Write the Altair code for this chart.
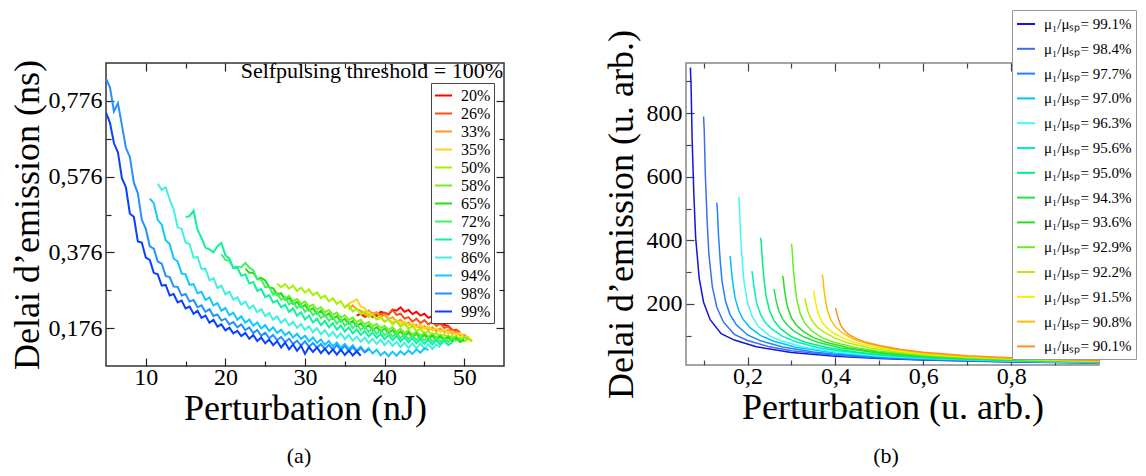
import altair as alt
import pandas as pd

FONT = "Liberation Serif"

# ---------------- panel (a) : measured delays ----------------
A_SERIES = ["20%", "26%", "33%", "35%", "50%", "58%", "65%", "72%", "79%", "86%", "94%", "98%", "99%"]
A_COLORS = ["#ff0000", "#ff4a10", "#ff9a20", "#ffd21e", "#a6f000", "#72f020", "#20e010",
            "#40f068", "#10f0a0", "#40f0e0", "#10c8ff", "#2590ff", "#0a40ff"]
A_X0 = [36.5, 37.5, 35.5, 35.0, 26.5, 26.0, 22.5, 19.5, 15.0, 11.5, 10.5, 5.0, 5.0]
A_DX = 0.5
A_Y = {
    "20%": [0.209, 0.214, 0.206, 0.212, 0.215, 0.208, 0.219, 0.216, 0.212, 0.225, 0.222, 0.231, 0.219,
            0.224, 0.213, 0.219, 0.209, 0.214, 0.203, 0.208, 0.196, 0.197, 0.184, 0.182, 0.171, 0.168],
    "26%": [0.204, 0.212, 0.205, 0.214, 0.211, 0.217, 0.213, 0.224, 0.211, 0.214, 0.201, 0.205, 0.193,
            0.201, 0.189, 0.197, 0.186, 0.193, 0.182, 0.188, 0.176, 0.181, 0.169, 0.172, 0.164],
    "33%": [0.226, 0.236, 0.226, 0.222, 0.212, 0.223, 0.214, 0.218, 0.206, 0.211, 0.200, 0.205, 0.193,
            0.198, 0.186, 0.191, 0.181, 0.185, 0.175, 0.181, 0.171, 0.178, 0.168, 0.175, 0.166, 0.172,
            0.161, 0.166, 0.156, 0.159, 0.150],
    "35%": [0.232, 0.241, 0.246, 0.252, 0.233, 0.229, 0.214, 0.213, 0.200, 0.202, 0.193, 0.199, 0.191,
            0.197, 0.187, 0.193, 0.183, 0.189, 0.178, 0.185, 0.174, 0.181, 0.170, 0.176, 0.166, 0.172,
            0.162, 0.168, 0.158, 0.163, 0.152, 0.153, 0.142],
    "50%": [0.293, 0.284, 0.292, 0.280, 0.288, 0.274, 0.283, 0.270, 0.278, 0.263, 0.271, 0.255, 0.262,
            0.247, 0.255, 0.240, 0.247, 0.230, 0.237, 0.220, 0.228, 0.212, 0.220, 0.205, 0.213, 0.199,
            0.207, 0.193, 0.200, 0.186, 0.194, 0.180, 0.188, 0.174, 0.181, 0.168, 0.175, 0.162, 0.169,
            0.156, 0.164, 0.152, 0.160, 0.148, 0.156, 0.144, 0.152, 0.141, 0.148, 0.140],
    "58%": [0.272, 0.262, 0.268, 0.254, 0.261, 0.247, 0.253, 0.240, 0.246, 0.232, 0.238, 0.225, 0.231,
            0.218, 0.224, 0.211, 0.217, 0.204, 0.210, 0.198, 0.204, 0.192, 0.198, 0.186, 0.192, 0.181,
            0.187, 0.176, 0.182, 0.171, 0.178, 0.167, 0.174, 0.163, 0.170, 0.159, 0.167, 0.156, 0.164,
            0.153, 0.161, 0.150, 0.159, 0.148, 0.157, 0.146, 0.155, 0.144, 0.152, 0.146],
    "65%": [0.333, 0.322, 0.322, 0.306, 0.309, 0.302, 0.284, 0.281, 0.266, 0.268, 0.251, 0.255, 0.240,
            0.245, 0.231, 0.237, 0.222, 0.229, 0.214, 0.222, 0.207, 0.215, 0.200, 0.208, 0.193, 0.201,
            0.187, 0.195, 0.181, 0.189, 0.176, 0.184, 0.171, 0.179, 0.167, 0.175, 0.163, 0.171, 0.159,
            0.167, 0.155, 0.164, 0.152, 0.161, 0.149, 0.158, 0.147, 0.156, 0.145, 0.154, 0.143, 0.152,
            0.141, 0.150, 0.139, 0.146],
    "72%": [0.371, 0.356, 0.354, 0.336, 0.338, 0.337, 0.348, 0.336, 0.329, 0.305, 0.304, 0.284, 0.285,
            0.264, 0.268, 0.251, 0.257, 0.239, 0.246, 0.229, 0.237, 0.219, 0.227, 0.210, 0.219, 0.202,
            0.212, 0.195, 0.205, 0.188, 0.199, 0.182, 0.193, 0.176, 0.187, 0.171, 0.181, 0.166, 0.176,
            0.161, 0.171, 0.157, 0.167, 0.153, 0.163, 0.150, 0.160, 0.147, 0.157, 0.145, 0.155, 0.143,
            0.153, 0.141, 0.151, 0.140, 0.150, 0.139, 0.149, 0.142],
    "79%": [0.469, 0.472, 0.486, 0.436, 0.414, 0.388, 0.384, 0.376, 0.392, 0.401, 0.368, 0.360, 0.334,
            0.336, 0.314, 0.318, 0.294, 0.298, 0.274, 0.279, 0.258, 0.263, 0.244, 0.249, 0.231, 0.238,
            0.219, 0.228, 0.209, 0.218, 0.199, 0.209, 0.191, 0.201, 0.184, 0.195, 0.178, 0.189, 0.172,
            0.183, 0.167, 0.178, 0.162, 0.173, 0.158, 0.169, 0.154, 0.165, 0.150, 0.161, 0.147, 0.158,
            0.144, 0.155, 0.141, 0.152, 0.138, 0.149, 0.136, 0.147, 0.134, 0.145, 0.133, 0.144, 0.132,
            0.143, 0.131, 0.138],
    "86%": [0.557, 0.541, 0.548, 0.515, 0.490, 0.442, 0.438, 0.402, 0.398, 0.362, 0.364, 0.332, 0.333,
            0.302, 0.308, 0.282, 0.288, 0.265, 0.272, 0.251, 0.257, 0.238, 0.246, 0.228, 0.236, 0.218,
            0.226, 0.208, 0.216, 0.198, 0.207, 0.190, 0.200, 0.183, 0.193, 0.177, 0.187, 0.171, 0.181,
            0.165, 0.176, 0.160, 0.171, 0.155, 0.166, 0.151, 0.162, 0.147, 0.158, 0.143, 0.154, 0.140,
            0.151, 0.137, 0.148, 0.134, 0.145, 0.131, 0.143, 0.129, 0.140, 0.126, 0.138, 0.124, 0.136,
            0.123, 0.135, 0.122, 0.134, 0.121, 0.133, 0.125],
    "94%": [0.518, 0.506, 0.462, 0.449, 0.408, 0.398, 0.360, 0.352, 0.320, 0.318, 0.290, 0.292, 0.268,
            0.272, 0.250, 0.257, 0.236, 0.242, 0.222, 0.229, 0.210, 0.217, 0.198, 0.207, 0.190, 0.199,
            0.182, 0.191, 0.175, 0.184, 0.168, 0.178, 0.163, 0.172, 0.157, 0.166, 0.151, 0.161, 0.147,
            0.156, 0.141, 0.151, 0.137, 0.146, 0.132, 0.142, 0.128, 0.138, 0.124, 0.134, 0.121, 0.131,
            0.117, 0.127, 0.113, 0.123, 0.109, 0.119, 0.104, 0.113, 0.102, 0.114, 0.103, 0.115, 0.106,
            0.117, 0.108, 0.120, 0.111, 0.123, 0.118],
    "98%": [0.835, 0.812, 0.748, 0.770, 0.712, 0.652, 0.628, 0.560, 0.532, 0.462, 0.438, 0.392, 0.386,
            0.352, 0.346, 0.314, 0.311, 0.286, 0.285, 0.262, 0.266, 0.246, 0.250, 0.231, 0.236, 0.219,
            0.226, 0.208, 0.212, 0.196, 0.201, 0.186, 0.192, 0.178, 0.186, 0.171, 0.178, 0.163, 0.171,
            0.156, 0.164, 0.149, 0.158, 0.144, 0.153, 0.139, 0.148, 0.134, 0.143, 0.130, 0.141, 0.127,
            0.137, 0.124, 0.134, 0.121, 0.132, 0.119, 0.131, 0.118, 0.129, 0.115, 0.126, 0.113, 0.124,
            0.112, 0.120],
    "99%": [0.745, 0.718, 0.664, 0.640, 0.572, 0.548, 0.478, 0.470, 0.405, 0.402, 0.362, 0.356, 0.322,
            0.318, 0.288, 0.290, 0.262, 0.266, 0.244, 0.249, 0.228, 0.233, 0.214, 0.222, 0.203, 0.209,
            0.190, 0.198, 0.180, 0.186, 0.170, 0.177, 0.162, 0.169, 0.155, 0.163, 0.148, 0.158, 0.142,
            0.151, 0.136, 0.146, 0.131, 0.142, 0.125, 0.138, 0.120, 0.133, 0.116, 0.130, 0.108, 0.126,
            0.113, 0.125, 0.110, 0.122, 0.108, 0.120, 0.106, 0.119, 0.105, 0.117, 0.104, 0.115, 0.103],
}
A_NOTE = "Selfpulsing threshold = 100%"
A_XDOMAIN = [5, 55]
A_YDOMAIN = [0.076, 0.876]
A_XMAJOR = [10, 20, 30, 40, 50]
A_XMINOR = [15, 25, 35, 45]
A_YMAJOR = [0.176, 0.376, 0.576, 0.776]
A_YMINOR = [0.276, 0.476, 0.676]

# ---------------- panel (b) : simulated delays ----------------
B_SERIES = ["μ₁/μₛₚ= 99.1%", "μ₁/μₛₚ= 98.4%", "μ₁/μₛₚ= 97.7%", "μ₁/μₛₚ= 97.0%", "μ₁/μₛₚ= 96.3%",
            "μ₁/μₛₚ= 95.6%", "μ₁/μₛₚ= 95.0%", "μ₁/μₛₚ= 94.3%", "μ₁/μₛₚ= 93.6%", "μ₁/μₛₚ= 92.9%",
            "μ₁/μₛₚ= 92.2%", "μ₁/μₛₚ= 91.5%", "μ₁/μₛₚ= 90.8%", "μ₁/μₛₚ= 90.1%"]
B_COLORS = ["#1414dc", "#3c6ef0", "#1e82ff", "#00c0ff", "#48f8f8", "#00f0c4", "#00f080", "#22e050",
            "#26e020", "#66f020", "#b0f000", "#f0f000", "#ffc000", "#ff9020"]
B_X = [
    [0.07, 0.0715, 0.074, 0.078, 0.082, 0.09, 0.10, 0.115, 0.14, 0.17, 0.22, 0.3, 0.4, 0.5, 0.6, 0.7, 0.8, 0.9, 1.0],
    [0.10, 0.1015, 0.104, 0.108, 0.112, 0.12, 0.13, 0.145, 0.17, 0.2, 0.25, 0.3, 0.4, 0.5, 0.6, 0.7, 0.8, 0.9, 1.0],
    [0.13, 0.1315, 0.134, 0.138, 0.142, 0.15, 0.16, 0.175, 0.2, 0.23, 0.28, 0.35, 0.4, 0.5, 0.6, 0.7, 0.8, 0.9, 1.0],
    [0.16, 0.1615, 0.164, 0.168, 0.172, 0.18, 0.19, 0.205, 0.23, 0.26, 0.31, 0.4, 0.5, 0.6, 0.7, 0.8, 0.9, 1.0],
    [0.18, 0.1815, 0.184, 0.188, 0.192, 0.2, 0.21, 0.225, 0.25, 0.28, 0.33, 0.4, 0.5, 0.6, 0.7, 0.8, 0.9, 1.0],
    [0.21, 0.2115, 0.214, 0.218, 0.222, 0.23, 0.24, 0.255, 0.28, 0.31, 0.36, 0.4, 0.5, 0.6, 0.7, 0.8, 0.9, 1.0],
    [0.23, 0.2315, 0.234, 0.238, 0.242, 0.25, 0.26, 0.275, 0.3, 0.33, 0.38, 0.45, 0.5, 0.6, 0.7, 0.8, 0.9, 1.0],
    [0.26, 0.2615, 0.264, 0.268, 0.272, 0.28, 0.29, 0.305, 0.33, 0.36, 0.41, 0.5, 0.6, 0.7, 0.8, 0.9, 1.0],
    [0.28, 0.2815, 0.284, 0.288, 0.292, 0.3, 0.31, 0.325, 0.35, 0.38, 0.43, 0.5, 0.6, 0.7, 0.8, 0.9, 1.0],
    [0.30, 0.3015, 0.304, 0.308, 0.312, 0.32, 0.33, 0.345, 0.37, 0.4, 0.45, 0.5, 0.6, 0.7, 0.8, 0.9, 1.0],
    [0.33, 0.3315, 0.334, 0.338, 0.342, 0.35, 0.36, 0.375, 0.4, 0.43, 0.48, 0.55, 0.6, 0.7, 0.8, 0.9, 1.0],
    [0.35, 0.3515, 0.354, 0.358, 0.362, 0.37, 0.38, 0.395, 0.42, 0.45, 0.5, 0.57, 0.65, 0.7, 0.8, 0.9, 1.0],
    [0.37, 0.3715, 0.374, 0.378, 0.382, 0.39, 0.40, 0.415, 0.44, 0.47, 0.52, 0.6, 0.7, 0.8, 0.9, 1.0],
    [0.40, 0.4015, 0.404, 0.408, 0.412, 0.42, 0.43, 0.445, 0.47, 0.5, 0.55, 0.6, 0.7, 0.8, 0.9, 1.0],
]
B_Y = [
    [944, 888, 716, 540, 408, 281, 205, 150, 106, 86, 65, 47, 35, 27.7, 23, 19.7, 17.2, 15.2, 13.7],
    [790, 745, 606, 464, 357, 253, 190, 143, 104, 84.7, 64.6, 52.3, 37.8, 29.6, 24.3, 20.6, 17.9, 15.8, 14.2],
    [519, 493, 415, 333, 271, 208, 167, 133, 102, 83.6, 64.1, 48.3, 41.1, 31.7, 25.7, 21.7, 18.7, 16.5, 14.7],
    [351, 336, 295, 251, 217, 179, 151, 126, 100, 82.5, 63.6, 45.1, 34, 27.3, 22.9, 19.6, 17.2, 15.3],
    [537, 509, 424, 337, 270, 204, 162, 129, 99, 81.7, 63.3, 48.1, 35.8, 28.5, 23.7, 20.3, 17.7, 15.7],
    [303, 291, 259, 224, 197, 166, 142, 121, 97.4, 80.7, 62.8, 53.3, 38.7, 30.4, 25, 21.3, 18.5, 16.3],
    [408, 389, 332, 272, 226, 179, 148, 122, 96.3, 80, 62.5, 47.8, 40.9, 31.8, 26, 22, 19, 16.8],
    [247, 239, 217, 194, 175, 152, 134, 115, 94.7, 79, 62, 44.6, 34.1, 27.5, 23.1, 19.9, 17.5],
    [288, 277, 245, 211, 185, 156, 135, 115, 93.6, 78.4, 61.7, 47.5, 35.7, 28.7, 23.9, 20.5, 18],
    [389, 371, 315, 258, 214, 169, 140, 116, 92.7, 77.8, 61.4, 50.7, 37.6, 29.9, 24.8, 21.2, 18.5],
    [218, 211, 194, 175, 160, 141, 125, 110, 91.3, 76.9, 61, 47.2, 40.7, 31.9, 26.2, 22.2, 19.3],
    [242, 234, 210, 185, 165, 143, 126, 109, 90.4, 76.4, 60.7, 47.1, 37.5, 33.3, 27.2, 23, 19.9],
    [292, 280, 245, 207, 179, 149, 128, 109, 89.5, 75.8, 60.4, 45.6, 34.9, 28.3, 23.7, 20.5],
    [187, 182, 166, 148, 133, 117, 104, 92, 78.8, 68.7, 56.5, 48, 37, 30, 25.3, 21.8],
]
B_XDOMAIN = [0.06, 1.0]
B_YDOMAIN = [7.5, 958]
B_XMAJOR = [0.2, 0.4, 0.6, 0.8]
B_XMINOR = [0.1, 0.3, 0.5, 0.7, 0.9]
B_YMAJOR = [200, 400, 600, 800]
B_YMINOR = [100, 300, 500, 700, 900]

# ---------------- tables ----------------
rows = []
for name, x0 in zip(A_SERIES, A_X0):
    for i, v in enumerate(A_Y[name]):
        rows.append({"x": x0 + A_DX * i, "y": v, "s": name})
df_a = pd.DataFrame(rows)

rows = []
for name, xs, ys in zip(B_SERIES, B_X, B_Y):
    for xv, yv in zip(xs, ys):
        rows.append({"x": xv, "y": yv, "s": name})
df_b = pd.DataFrame(rows)

dom_a = pd.DataFrame({"x": A_XDOMAIN, "y": A_YDOMAIN})
dom_b = pd.DataFrame({"x": B_XDOMAIN, "y": B_YDOMAIN})

TXT = dict(labelFont=FONT, labelFontSize=24, labelColor="black",
           titleFont=FONT, titleFontSize=36, titleColor="black", titleFontWeight="normal")


def tick_axis(orient, values, size, color):
    return alt.Axis(orient=orient, values=values, labels=False, domain=False, grid=False,
                    title=None, ticks=True, tickSize={"expr": str(-size)},
                    tickColor=color, tickWidth=1.2)


def panel(df, dom, xscale, yscale, xmaj, xmin, ymaj, ymin, xtitle, ytitle,
          xlabexpr, ylabexpr, color_enc, tick_color, extras, w, h, frame, lw, ytpad):
    main_x = alt.Axis(orient="bottom", values=xmaj, title=xtitle, grid=False, domain=False,
                      tickSize={"expr": "-8"}, tickColor=tick_color, tickWidth=1.2,
                      labelPadding=7, titlePadding=2, labelExpr=xlabexpr, **TXT)
    main_y = alt.Axis(orient="left", values=ymaj, title=ytitle, grid=False, domain=False,
                      tickSize={"expr": "-8"}, tickColor=tick_color, tickWidth=1.2,
                      labelPadding=12, titlePadding=ytpad, labelExpr=ylabexpr, **TXT)
    lines = alt.Chart(df).mark_line(strokeWidth=lw, clip=True).encode(
        x=alt.X("x:Q", scale=xscale, axis=main_x),
        y=alt.Y("y:Q", scale=yscale, axis=main_y),
        color=color_enc,
    )
    layers = [lines]
    for (xo, yo, xv, yv, sz) in [("bottom", "left", xmin, ymin, 5),
                                 ("top", "right", xmaj, ymaj, 8),
                                 ("top", "right", xmin, ymin, 5)]:
        layers.append(alt.Chart(dom).mark_point(opacity=0).encode(
            x=alt.X("x:Q", scale=xscale, axis=tick_axis(xo, xv, sz, tick_color)),
            y=alt.Y("y:Q", scale=yscale, axis=tick_axis(yo, yv, sz, tick_color)),
        ))
    layers += extras
    return alt.layer(*layers).resolve_axis(x="independent", y="independent").properties(
        width=w, height=h, view=alt.ViewBackground(stroke=frame, strokeWidth=1.5))


def label_text(txt, x, y, size, align="center"):
    return alt.Chart(pd.DataFrame({"t": [txt]})).mark_text(
        font=FONT, fontSize=size, align=align, baseline="middle", color="black"
    ).encode(text="t:N", x=alt.value(x), y=alt.value(y))


color_a = alt.Color("s:N", scale=alt.Scale(domain=A_SERIES, range=A_COLORS), legend=alt.Legend(
    orient="none", legendX=325, legendY=20, title=None, labelFont=FONT, labelFontSize=16,
    labelColor="black", symbolType="stroke", symbolSize=289, symbolStrokeWidth=2,
    rowPadding=0, padding=3, labelOffset=8, strokeColor="#444", fillColor="white"))
color_b = alt.Color("s:N", scale=alt.Scale(domain=B_SERIES, range=B_COLORS), legend=alt.Legend(
    orient="none", legendX=326, legendY=-53, title=None, labelFont=FONT, labelFontSize=15,
    labelColor="black", symbolType="stroke", symbolSize=324, symbolStrokeWidth=2,
    rowPadding=6.8, padding=4, labelOffset=8, strokeColor="#999", fillColor="white",
    labelLimit=300))

panel_a = panel(df_a, dom_a,
                alt.Scale(domain=A_XDOMAIN, nice=False, zero=False),
                alt.Scale(domain=A_YDOMAIN, nice=False, zero=False),
                A_XMAJOR, A_XMINOR, A_YMAJOR, A_YMINOR,
                "Perturbation (nJ)", "Delai d\u2019emission (ns)",
                "datum.label", "replace(format(datum.value, '.3f'), '.', ',')",
                color_a, "#222",
                [label_text(A_NOTE, 397, 8, 22, "right"), label_text("(a)", 193, 393, 22)],
                398, 303, "#333", 2.0, 2)

panel_b = panel(df_b, dom_b,
                alt.Scale(domain=B_XDOMAIN, nice=False, zero=False),
                alt.Scale(domain=B_YDOMAIN, nice=False, zero=False),
                B_XMAJOR, B_XMINOR, B_YMAJOR, B_YMINOR,
                "Perturbation (u. arb.)", "Delai d\u2019emission (u. arb.)",
                "replace(format(datum.value, '.1f'), '.', ',')", "datum.label",
                color_b, "#444",
                [label_text("(b)", 200, 393, 22)],
                413, 302, "#888", 1.5, 6)

chart = alt.hconcat(panel_a, panel_b, spacing=94).resolve_scale(
    color="independent"
).resolve_legend(color="independent").properties(
    padding={"left": 0, "top": 0, "right": 0, "bottom": 0}
).configure(
    font=FONT,
    style={"guide-label": {"font": FONT}, "guide-title": {"font": FONT}},
)

chart.save("out.html", embed_options={"renderer": "svg", "actions": False})
